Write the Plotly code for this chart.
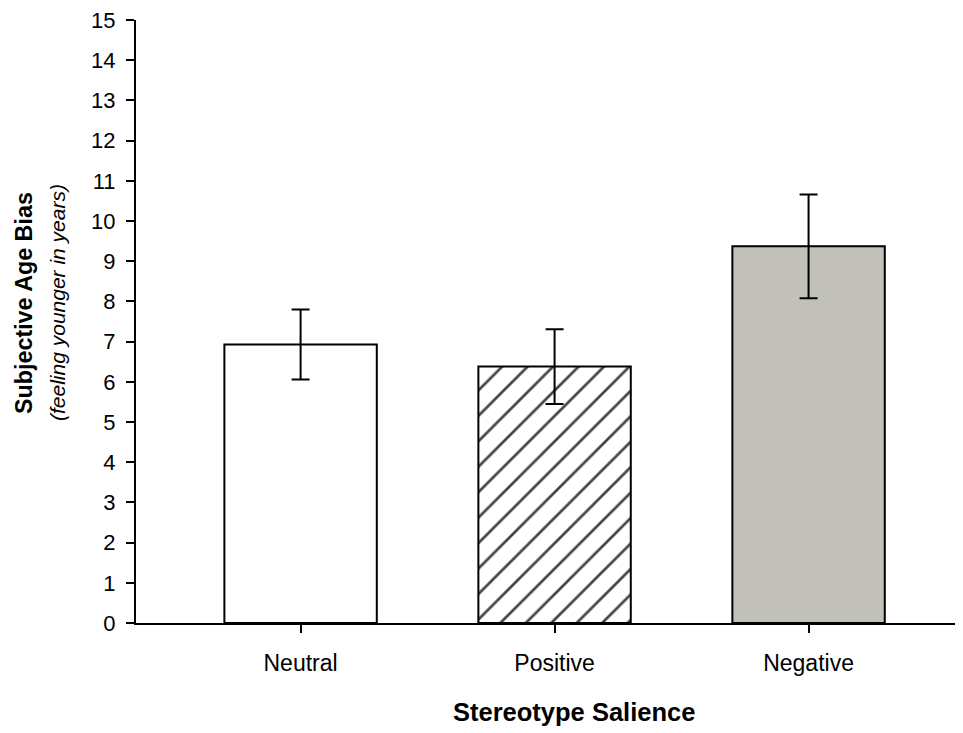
import plotly.graph_objects as go

categories = ["Neutral", "Positive", "Negative"]
means = [6.93, 6.38, 9.37]
errors = [0.87, 0.93, 1.29]
fills = ["#ffffff", "#ffffff", "#c1c1b9"]
patterns = ["", "/", ""]

# page body has an 8px margin; compensate so plot area lands where it should
OFF = 8
W, H = 963 - OFF, 733 - OFF
L, R, T, B = 136 - OFF, 0, 20 - OFF, 110
pw, ph = W - L - R, H - T - B
top_px = 20
bottom_px = top_px + ph

fig = go.Figure()
fig.add_trace(go.Bar(
    x=categories, y=means, width=0.6,
    marker=dict(color=fills, line=dict(color="black", width=2),
                pattern=dict(shape=patterns, fgcolor="black", bgcolor="white",
                             fgopacity=1, size=18, solidity=0.15, fillmode="overlay")),
    error_y=dict(type="data", array=errors, visible=True, color="black",
                 thickness=2, width=9),
    showlegend=False,
))

font = "Arial, 'Liberation Sans', sans-serif"
fig.update_layout(
    width=W, height=H,
    margin=dict(l=L, r=R, t=T, b=B, pad=0),
    paper_bgcolor="white", plot_bgcolor="white",
    font=dict(family=font, color="black", size=22),
    xaxis=dict(range=[-0.648, 2.608], showline=True, linecolor="black", linewidth=2,
               ticks="outside", ticklen=8, tickwidth=2, tickcolor="black",
               showgrid=False, zeroline=False, ticklabelstandoff=10,
               tickfont=dict(size=23, family=font, color="black")),
    yaxis=dict(range=[0, 15], tickvals=list(range(0, 16)), showline=True,
               linecolor="black", linewidth=2, ticks="outside", ticklen=8,
               tickwidth=2, tickcolor="black", showgrid=False, zeroline=False,
               ticklabelstandoff=6, ticklabeloverflow="allow",
               tickfont=dict(size=22, family=font, color="black")),
)

def px_x(p):
    return (p - 136) / pw

def px_y(p):
    return (bottom_px - p) / ph

fig.add_annotation(text="<b>Stereotype Salience</b>", xref="paper", yref="paper",
                   x=px_x(573.5), y=px_y(712), xanchor="center",
                   yanchor="middle", showarrow=False,
                   font=dict(size=25.5, family=font, color="black"))
fig.add_annotation(text="<b>Subjective Age Bias</b>", xref="paper", yref="paper",
                   x=px_x(24), y=px_y(303), xanchor="center",
                   yanchor="middle", textangle=-90, showarrow=False,
                   font=dict(size=23.3, family=font, color="black"))
fig.add_annotation(text="<i>(feeling younger in years)</i>", xref="paper", yref="paper",
                   x=px_x(57), y=px_y(303), xanchor="center",
                   yanchor="middle", textangle=-90, showarrow=False,
                   font=dict(size=21, family=font, color="black"))

fig.write_html("out.html")
